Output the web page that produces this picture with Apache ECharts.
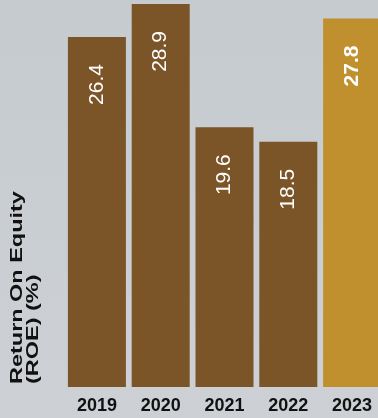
<!DOCTYPE html>
<html>
<head>
<meta charset="utf-8">
<script src="https://cdn.jsdelivr.net/npm/echarts@6/dist/echarts.min.js"></script>
<style>
  html, body { margin: 0; padding: 0; overflow: hidden; width: 378px; height: 418px; }
  /* the plot runs slightly past the right edge, so the last bar is cut off */
  #chart { width: 384px; height: 418px; }
</style>
</head>
<body>
<div id="chart"></div>
<script>
// Return on equity by year
const years = ['2019', '2020', '2021', '2022', '2023'];
const roe = [26.4, 28.9, 19.6, 18.5, 27.8];
const axisTitle = 'Return On Equity\n(ROE) (%)';

const BROWN = '#7b5427';
const GOLD = '#c1902e';
const FONT = '"Liberation Sans", Arial, Helvetica, sans-serif';

const lastIdx = years.length - 1;

const chart = echarts.init(document.getElementById('chart'), null, { renderer: 'canvas' });

chart.setOption({
  animation: false,
  backgroundColor: {
    type: 'linear', x: 0, y: 0, x2: 0, y2: 1,
    colorStops: [
      { offset: 0, color: '#c6cbd0' },
      { offset: 1, color: '#cdd1d5' }
    ]
  },
  grid: { left: 65, right: 0, top: 0, bottom: 31, containLabel: false },
  xAxis: {
    type: 'category',
    data: years,
    axisLine: { show: false },
    axisTick: { show: false },
    axisLabel: {
      margin: 10,
      color: '#111',
      fontSize: 18,
      fontWeight: 'bold',
      fontFamily: FONT
    }
  },
  yAxis: {
    type: 'value',
    min: 0,
    max: 29.2,
    show: false,
    splitLine: { show: false }
  },
  graphic: [{
    type: 'text',
    x: 9,
    y: 384,
    rotation: Math.PI / 2,
    scaleX: 1.38,
    style: {
      text: axisTitle,
      fill: '#111',
      fontSize: 17,
      fontWeight: 'bold',
      fontFamily: FONT,
      align: 'left',
      verticalAlign: 'top',
      lineHeight: 16
    }
  }],
  series: [{
    type: 'bar',
    barWidth: 58,
    data: roe.map((v, i) => ({
      value: v,
      itemStyle: { color: i === lastIdx ? GOLD : BROWN },
      label: i === lastIdx ? { fontWeight: 'bold', fontSize: 21 } : {}
    })),
    label: {
      show: true,
      position: 'insideTop',
      distance: 27,
      rotate: 90,
      align: 'right',
      verticalAlign: 'middle',
      color: '#ffffff',
      fontSize: 21,
      fontFamily: FONT,
      formatter: p => p.value.toFixed(1)
    }
  }]
});
</script>
</body>
</html>
